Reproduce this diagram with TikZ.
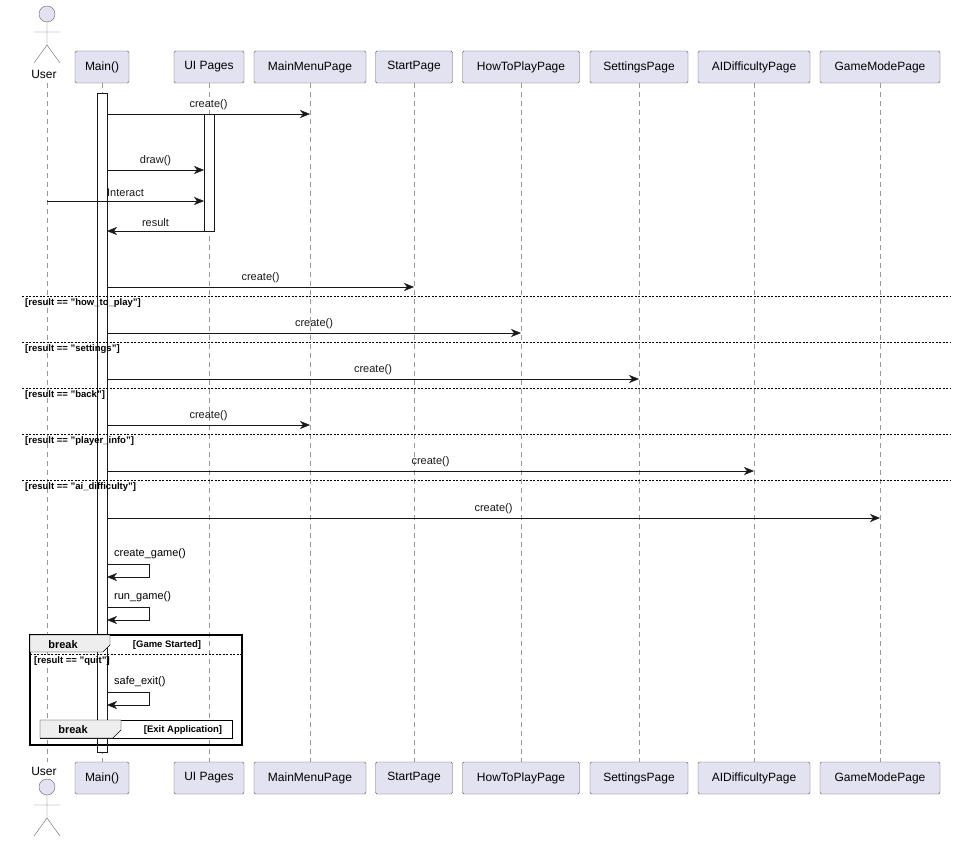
\documentclass[tikz,border=0pt]{standalone}
\usepackage{fontspec}
\setmainfont{Liberation Sans}
\usetikzlibrary{arrows.meta}
\definecolor{partfill}{HTML}{E2E2F0}
\definecolor{partline}{HTML}{181818}
\definecolor{tabfill}{HTML}{EEEEEE}
\tikzset{
  part/.style={draw=partline!70, fill=partfill, rounded corners=1.5pt, minimum height=32pt, inner sep=0pt, font=\fontsize{12}{14}\selectfont},
  life/.style={gray!80, dashed, dash pattern=on 5pt off 4pt},
  msg/.style={-{Stealth[length=10pt,width=8pt,inset=3pt]}, partline},
  lbl/.style={font=\fontsize{11}{13}\selectfont, inner sep=0pt},
  guard/.style={font=\bfseries\fontsize{9.5}{11}\selectfont, inner sep=0pt, anchor=west},
  sep/.style={dashed, dash pattern=on 2pt off 1.5pt, black},
  act/.style={draw=partline, fill=white},
  frm/.style={draw=black, line width=1.4pt}
}
\newcommand{\actor}[2]{% x, head y
  \draw[gray!80!black, fill=partfill] (#1,#2) circle (8pt);
  \draw[gray!80!black] (#1,#2+8) -- (#1,#2+31) (#1-13,#2+18) -- (#1+13,#2+18)
    (#1-13,#2+49) -- (#1,#2+31) -- (#1+13,#2+49);
}
\begin{document}
\begin{tikzpicture}[x=1pt,y=-1pt]
    \useasboundingbox (0,0) rectangle (956,843);
    % Participantes arriba y abajo
    \foreach \n/\t/\x/\w in {main/Main()/102/54, ui/UI Pages/209/70, menu/MainMenuPage/310/112,
      start/StartPage/414/77, how/HowToPlayPage/521/117, set/SettingsPage/639/98,
      ai/AIDifficultyPage/754/112, mode/GameModePage/880/120} {
      \node[part, minimum width=\w pt] (\n) at (\x,67) {\t};
      \node[part, minimum width=\w pt] (\n b) at (\x,778) {\t};
      \draw[life] (\n.south) -- (\n b.north);
    }
    \coordinate (user) at (47,83);
    \coordinate (user b) at (47,762);
    \draw[life] (user) -- (user b);
    \actor{47}{14}
    \node[lbl, font=\fontsize{12}{14}\selectfont] at (44,74) {User};
    \node[lbl, font=\fontsize{12}{14}\selectfont] at (44,771) {User};
    \actor{47}{787}

    % Activaciones
    \draw[act] (97,93) rectangle (107,752);
    \draw[act] (204,114) rectangle (214,231);
    \coordinate (mainR) at (107,0);
    \coordinate (uiL) at (204,0);

    % Mensajes
    \draw[msg] (mainR |- 0,114) -- (menu |- 0,114) node[lbl, midway, above=4pt] {create()};
    \draw[msg] (mainR |- 0,170) -- (uiL |- 0,170) node[lbl, midway, above=4pt] {draw()};
    \draw[msg] (user |- 0,201) -- (uiL |- 0,201) node[lbl, pos=0.5, above=4pt] {Interact};
    \draw[msg] (uiL |- 0,231) -- (mainR |- 0,231) node[lbl, midway, above=4pt] {result};
    \draw[msg] (mainR |- 0,287) -- (start |- 0,287) node[lbl, midway, above=4pt] {create()};

    % Alternativas
    \foreach \y/\g in {296/how\_to\_play, 342/settings, 388/back, 434/player\_info, 480/ai\_difficulty} {
      \draw[sep] (22,\y) -- (950,\y);
      \node[guard] at (25,\y+7) {[result == "\g"]};
    }
    \draw[msg] (mainR |- 0,333) -- (how |- 0,333) node[lbl, midway, above=4pt] {create()};
    \draw[msg] (mainR |- 0,379) -- (set |- 0,379) node[lbl, midway, above=4pt] {create()};
    \draw[msg] (mainR |- 0,425) -- (menu |- 0,425) node[lbl, midway, above=4pt] {create()};
    \draw[msg] (mainR |- 0,471) -- (ai |- 0,471) node[lbl, midway, above=4pt] {create()};
    \draw[msg] (mainR |- 0,518) -- (mode |- 0,518) node[lbl, midway, above=4pt] {create()};

    % Mensajes a si mismo
    \foreach \y/\t in {564/create\_game(), 607/run\_game(), 692/safe\_exit()} {
      \node[lbl, anchor=south west] at (114,\y-5) {\t};
      \draw[msg] (mainR |- 0,\y) -- (149,\y) -- (149,\y+13) -- (mainR |- 0,\y+13);
    }

    % Break exterior
    \draw[frm, fill=none] (30,635) rectangle (242,745);
    \draw[fill=tabfill, draw=black] (30,635) -- (110,635) -- (110,645) -- (103,652) -- (30,652) -- cycle;
    \node[font=\bfseries\fontsize{11}{13}\selectfont, inner sep=0pt] at (63,645) {break};
    \node[guard, anchor=center] at (167,645) {[Game Started]};
    \draw[sep] (30,654) -- (242,654);
    \node[guard] at (34,661) {[result == "quit"]};

    % Break interior
    \draw[draw=black, line width=1pt, fill=white] (40,720) rectangle (232,738);
    \draw[fill=tabfill, draw=black] (40,720) -- (121,720) -- (121,730) -- (113,738) -- (40,738) -- cycle;
    \node[font=\bfseries\fontsize{11}{13}\selectfont, inner sep=0pt] at (73,730) {break};
    \node[guard, anchor=center] at (183,730) {[Exit Application]};
    \draw[act, fill=none] (97,738) -- (97,745) (107,738) -- (107,745);
\end{tikzpicture}
\end{document}
